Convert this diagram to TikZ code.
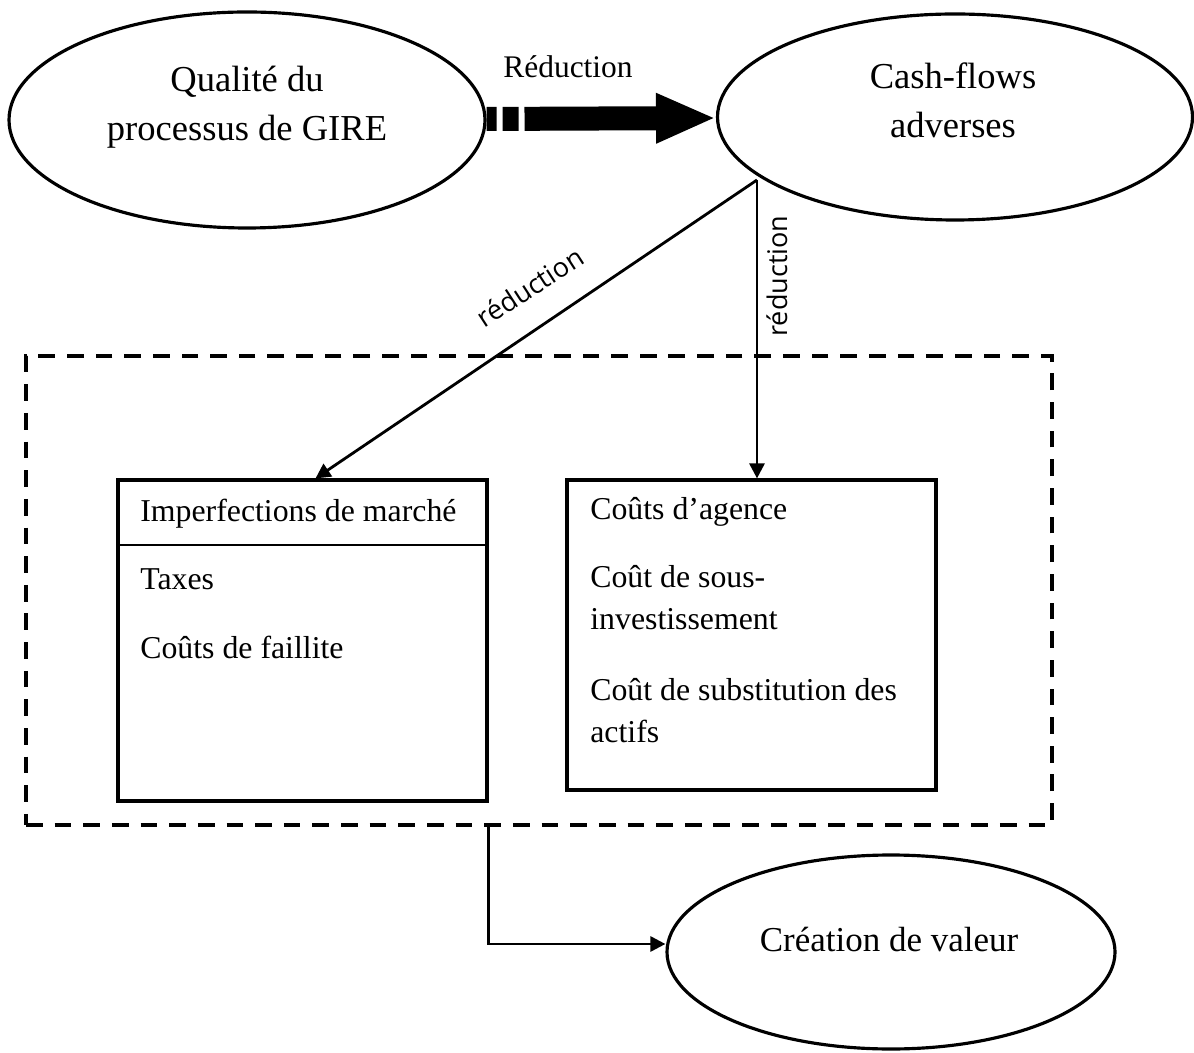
\documentclass[tikz,border=0pt]{standalone}
\usepackage{fontspec}
\setmainfont{Liberation Serif}
\newfontfamily\sansetiq{Open Sans}
\usetikzlibrary{arrows.meta,shapes.geometric}

\begin{document}
\begin{tikzpicture}[
    bulle/.style={ellipse,draw,line width=1.8pt,inner sep=0pt},
    grostexte/.style={align=center,font=\fontsize{20.8}{28}\selectfont},
    boite/.style={rectangle,draw,line width=1.8pt,minimum width=7.38cm,inner sep=0pt},
    ligne/.style={anchor=base west,inner sep=0pt,font=\fontsize{18.1}{24}\selectfont},
    fleche/.style={line width=1.6pt,-{Triangle[length=8.5pt,width=8.5pt]}},
    etiq/.style={font=\sansetiq\fontsize{15.4}{18}\selectfont},
  ]
\useasboundingbox (0,0) rectangle (23.88,21.04);

        \node[bulle,minimum width=9.52cm,minimum height=4.32cm] (qualite) at (4.94,18.64) {};
        \node[grostexte] (qualitetxt) at (4.94,18.90) {Qualité du\\processus de GIRE};
        \node[bulle,minimum width=9.50cm,minimum height=4.12cm] (cash) at (19.10,18.70) {};
        \node[grostexte] (cashtxt) at (19.06,19.04) {Cash-flows\\adverses};
        \node[bulle,minimum width=8.96cm,minimum height=3.88cm] (valeur) at (17.82,2.00) {};
        \node[font=\fontsize{19.9}{24}\selectfont] (valeurtxt) at (17.78,2.24) {Création de valeur};

% grosse fleche
        \draw [line width=0.48cm, dash pattern=on 5.7pt off 3.4pt on 9.1pt off 3.4pt on 200pt off 0pt,
               -{Triangle[length=1.2cm,width=0.92cm]}] (qualite) -- (cash);
      \node[font=\fontsize{17.9}{20}\selectfont] (reduc) at (11.36,19.70) {Réduction};

% cadre
        \node[draw,line width=2pt,dash pattern=on 9.5pt off 6.8pt,minimum width=20.52cm,minimum height=9.38cm,inner sep=0pt] (cadre) at (10.78,9.23) {};

        \node[boite,minimum height=6.42cm] (imperf) at (6.05,8.23) {};
        \draw [line width=1.2pt] ([yshift=-1.34cm]imperf.north west) -- ([yshift=-1.34cm]imperf.north east);
        \node[ligne] (l1) at (2.80,10.60) {Imperfections de marché};
        \node[ligne] (l2) at (2.80,9.24) {Taxes};
        \node[ligne] (l3) at (2.80,7.86) {Coûts de faillite};

        \node[boite,minimum height=6.2cm] (agence) at (15.03,8.34) {};
        \node[ligne] (m1) at (11.80,10.64) {Coûts d’agence};
        \node[ligne] (m2) at (11.80,9.28) {Coût de sous-};
        \node[ligne] (m3) at (11.80,8.44) {investissement};
        \node[ligne] (m4) at (11.80,7.04) {Coût de substitution des};
        \node[ligne] (m5) at (11.80,6.20) {actifs};

% reductions
        \coordinate (cfout) at (15.14,17.44);
        \draw [fleche] (cfout) -- ([xshift=0.26cm]imperf.north);
        \draw [fleche] (cfout) -- (cfout |- agence.north);
      \node[etiq,rotate=33] (r1) at (10.60,15.30) {réduction};
      \node[etiq,rotate=90] (r2) at (15.54,15.52) {réduction};

        \draw [fleche] (cadre.south -| imperf.east) |- ([yshift=0.16cm]valeur.west);
\end{tikzpicture}
\end{document}
